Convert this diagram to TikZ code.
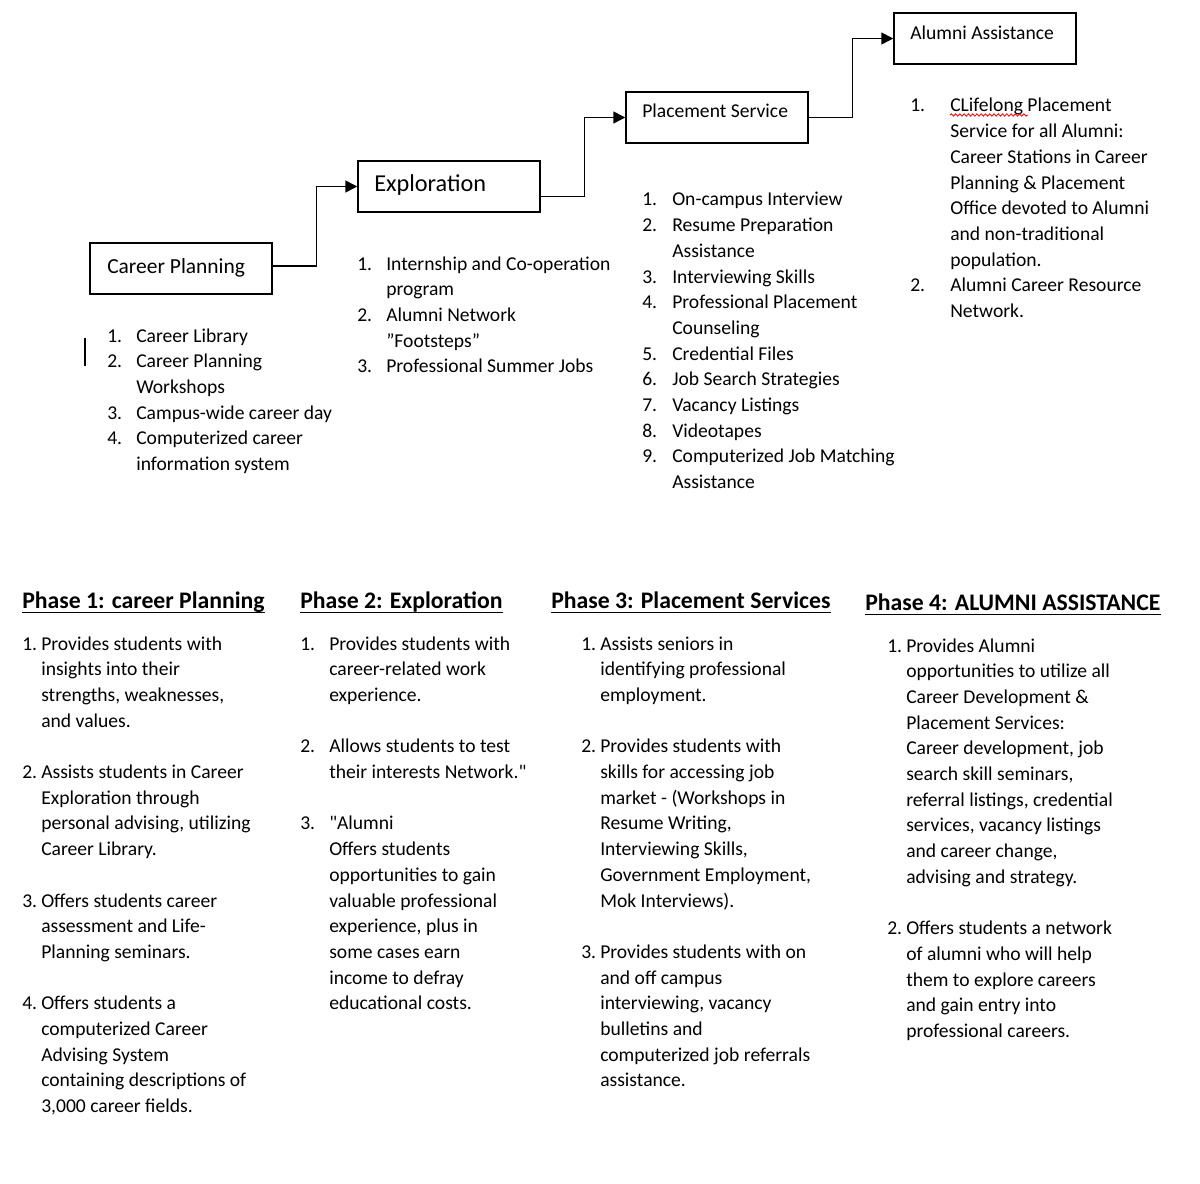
\documentclass[tikz,border=0pt]{standalone}
\usepackage{fontspec}
\setmainfont{Carlito}[Ligatures=TeXOff]
\usetikzlibrary{arrows.meta,decorations.pathmorphing}
\newlength\pxu \setlength\pxu{0.75pt}
\newcommand\bodyfont{\fontsize{14.7pt}{19.275pt}\selectfont}
\newcommand\headfont{\fontsize{17.8pt}{21pt}\selectfont\bfseries}
\newlength\rowind
\newcommand\rowline[2]{\makebox[\rowind][l]{#1}#2\par}
\newcommand\rowgap{\mbox{}\par}
\newcommand\collist[2]{\parbox[t]{330\pxu}{\bodyfont\setlength\parindent{0pt}\setlength\parskip{0pt}\setlength\rowind{#1}#2}}
\begin{document}
\begin{tikzpicture}[x=0.75pt,y=-0.75pt,
  box/.style={draw=black,line width=1.1pt,minimum width=182\pxu,minimum height=51\pxu,inner sep=0pt},
  lbl/.style={anchor=base west,inner sep=0pt,font=\bodyfont},
  lst/.style={anchor=base west,inner sep=0pt},
  head/.style={anchor=base west,inner sep=0pt,font=\headfont},
  conn/.style={line width=1.1pt,-{Triangle[length=9pt,width=9pt]}},
  uline/.style={line width=1.1pt}]
\fill[white] (0,0) rectangle (1200,1184);
\useasboundingbox (0,0) rectangle (1200,1184);
% boxes
\node[box] (cpbox) at (181,268.5) {};
\node[box] (exbox) at (449,186.5) {};
\node[box] (psbox) at (717,117.5) {};
\node[box] (aabox) at (985,38.5) {};
\node[lbl,font=\fontsize{16.1pt}{19pt}\selectfont] (cptxt) at (107,273) {Career Planning};
\node[lbl,font=\fontsize{18.2pt}{22pt}\selectfont] (extxt) at (374,192) {Exploration};
\node[lbl] (pstxt) at (642,118) {Placement Service};
\node[lbl] (aatxt) at (910,40) {Alumni Assistance};
% connectors
\draw[conn] ([yshift=2pt]cpbox.east) -- ++(44,0) |- (exbox.west);
\draw[conn] ([yshift=-7.5pt]exbox.east) -- ++(44,0) |- (psbox.west);
\draw[conn] (psbox.east) -- ++(44,0) |- (aabox.west);
% top lists
\node[lst] (cplist) at (107,342) {\collist{21.75pt}{%
\rowline{1.}{Career Library}
\rowline{2.}{Career Planning}
\rowline{}{Workshops}
\rowline{3.}{Campus-wide career day}
\rowline{4.}{Computerized career}
\rowline{}{information system}}};
\coordinate (cursa) at (85,338);
\coordinate (cursb) at (85,366);
\draw[line width=1.1pt] (cursa) -- (cursb);
\node[lst] (exlist) at (357,270) {\collist{21.75pt}{%
\rowline{1.}{Internship and Co-operation}
\rowline{}{program}
\rowline{2.}{Alumni Network}
\rowline{}{”Footsteps”}
\rowline{3.}{Professional Summer Jobs}}};
\node[lst] (pslist) at (642,206) {\collist{22.5pt}{%
\rowline{1.}{On-campus Interview}
\rowline{2.}{Resume Preparation}
\rowline{}{Assistance}
\rowline{3.}{Interviewing Skills}
\rowline{4.}{Professional Placement}
\rowline{}{Counseling}
\rowline{5.}{Credential Files}
\rowline{6.}{Job Search Strategies}
\rowline{7.}{Vacancy Listings}
\rowline{8.}{Videotapes}
\rowline{9.}{Computerized Job Matching}
\rowline{}{Assistance}}};
\node[lst] (aalist) at (910,112) {\collist{30pt}{%
\rowline{1.}{CLifelong Placement}
\rowline{}{Service for all Alumni:}
\rowline{}{Career Stations in Career}
\rowline{}{Planning \& Placement}
\rowline{}{Office devoted to Alumni}
\rowline{}{and non-traditional}
\rowline{}{population.}
\rowline{2.}{Alumni Career Resource}
\rowline{}{Network.}}};
\coordinate (wava) at (950,115);
\coordinate (wavb) at (1028,115);
\draw[red,line width=0.6pt,decorate,decoration={snake,amplitude=0.9pt,segment length=3.2pt}] (wava) -- (wavb);
% phase headers
\node[head] (h1) at (22,608) {Phase 1: career Planning};
\node[head] (h2) at (300,608) {Phase 2: Exploration};
\node[head] (h3) at (551,608) {Phase 3: Placement Services};
\node[head] (h4) at (865,610) {Phase 4: ALUMNI ASSISTANCE};
\foreach \h in {h1,h2,h3,h4}{
  \draw[uline] ([yshift=-3.2pt]\h.base west) -- ([yshift=-3.2pt]\h.base east);
}
% phase lists
\node[lst] (p1list) at (22,650) {\collist{14.25pt}{%
\rowline{1.}{Provides students with}
\rowline{}{insights into their}
\rowline{}{strengths, weaknesses,}
\rowline{}{and values.}
\rowgap
\rowline{2.}{Assists students in Career}
\rowline{}{Exploration through}
\rowline{}{personal advising, utilizing}
\rowline{}{Career Library.}
\rowgap
\rowline{3.}{Offers students career}
\rowline{}{assessment and Life-}
\rowline{}{Planning seminars.}
\rowgap
\rowline{4.}{Offers students a}
\rowline{}{computerized Career}
\rowline{}{Advising System}
\rowline{}{containing descriptions of}
\rowline{}{3,000 career fields.}}};
\node[lst] (p2list) at (300,650) {\collist{21.75pt}{%
\rowline{1.}{Provides students with}
\rowline{}{career-related work}
\rowline{}{experience.}
\rowgap
\rowline{2.}{Allows students to test}
\rowline{}{their interests Network."}
\rowgap
\rowline{3.}{"Alumni}
\rowline{}{Offers students}
\rowline{}{opportunities to gain}
\rowline{}{valuable professional}
\rowline{}{experience, plus in}
\rowline{}{some cases earn}
\rowline{}{income to defray}
\rowline{}{educational costs.}}};
\node[lst] (p3list) at (581,650) {\collist{14.25pt}{%
\rowline{1.}{Assists seniors in}
\rowline{}{identifying professional}
\rowline{}{employment.}
\rowgap
\rowline{2.}{Provides students with}
\rowline{}{skills for accessing job}
\rowline{}{market - (Workshops in}
\rowline{}{Resume Writing,}
\rowline{}{Interviewing Skills,}
\rowline{}{Government Employment,}
\rowline{}{Mok Interviews).}
\rowgap
\rowline{3.}{Provides students with on}
\rowline{}{and off campus}
\rowline{}{interviewing, vacancy}
\rowline{}{bulletins and}
\rowline{}{computerized job referrals}
\rowline{}{assistance.}}};
\node[lst] (p4list) at (887,652) {\collist{14.25pt}{%
\rowline{1.}{Provides Alumni}
\rowline{}{opportunities to utilize all}
\rowline{}{Career Development \&}
\rowline{}{Placement Services:}
\rowline{}{Career development, job}
\rowline{}{search skill seminars,}
\rowline{}{referral listings, credential}
\rowline{}{services, vacancy listings}
\rowline{}{and career change,}
\rowline{}{advising and strategy.}
\rowgap
\rowline{2.}{Offers students a network}
\rowline{}{of alumni who will help}
\rowline{}{them to explore careers}
\rowline{}{and gain entry into}
\rowline{}{professional careers.}}};
\end{tikzpicture}
\end{document}
